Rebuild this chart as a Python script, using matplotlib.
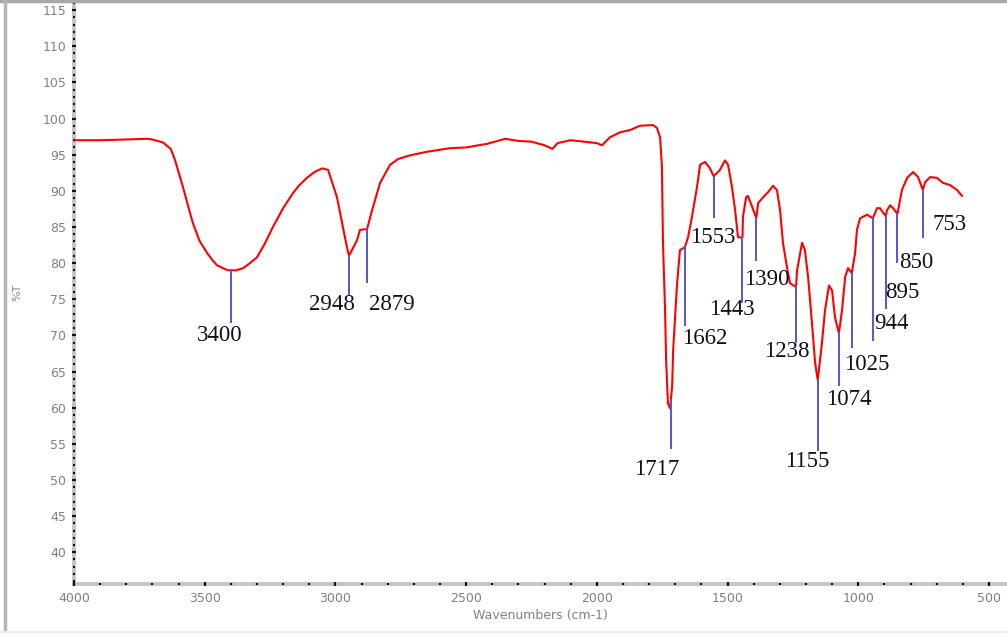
import numpy as np
import matplotlib
matplotlib.use("Agg")
import matplotlib.pyplot as plt
from matplotlib.lines import Line2D

# espectro IV (numero de onda cm-1, %T)
wn = [4000, 3900, 3800, 3720, 3700, 3660, 3630, 3614, 3600, 3583, 3565, 3545,
      3520, 3491, 3470, 3453, 3430, 3411, 3380, 3353, 3330, 3300, 3270, 3239,
      3200, 3162, 3140, 3109, 3080, 3051, 3028, 2994, 2956, 2948, 2917,
      2906, 2879, 2860, 2829, 2791, 2760, 2715, 2650, 2562, 2500, 2420, 2350,
      2300, 2250, 2200, 2170, 2150, 2100, 2050, 2000, 1980, 1950, 1911, 1873,
      1835, 1785, 1770, 1758, 1751, 1747, 1739, 1735, 1728, 1720, 1712, 1708,
      1693, 1682, 1663, 1651, 1636, 1617, 1605, 1586, 1567, 1553, 1529, 1510,
      1498, 1483, 1471, 1460, 1443, 1441, 1429, 1422, 1406, 1390, 1383, 1364,
      1345, 1326, 1311, 1299, 1288, 1273, 1261, 1238, 1234, 1215, 1204, 1192,
      1177, 1165, 1155, 1139, 1127, 1112, 1100, 1089, 1074, 1062, 1050, 1039,
      1025, 1012, 1005, 993, 966, 944, 928, 917, 895, 890, 878, 867, 850, 833,
      813, 790, 771, 753, 744, 725, 699, 676, 649, 622, 603]
T = [97.0, 97.0, 97.1, 97.2, 97.1, 96.7, 95.8, 94.3, 92.6, 90.5, 88.1, 85.5,
     83.1, 81.4, 80.4, 79.7, 79.3, 79.0, 79.0, 79.3, 79.9, 80.8, 82.7, 85.0,
     87.6, 89.7, 90.7, 91.8, 92.6, 93.1, 92.9, 89.1, 82.2, 81.0, 83.2,
     84.6, 84.7, 87.3, 91.1, 93.6, 94.4, 94.9, 95.4, 95.9, 96.0, 96.5, 97.2,
     96.9, 96.8, 96.3, 95.8, 96.6, 97.0, 96.8, 96.6, 96.3, 97.4, 98.1, 98.4,
     99.0, 99.1, 98.7, 97.4, 93.3, 82.8, 73.5, 66.6, 60.6, 59.9, 62.9, 68.0,
     77.2, 81.8, 82.2, 83.6, 86.4, 90.5, 93.6, 94.0, 93.1, 92.0, 92.9, 94.2,
     93.6, 90.5, 87.3, 83.6, 83.5, 86.4, 89.1, 89.3, 87.8, 86.2, 88.3, 89.1,
     89.8, 90.7, 90.1, 87.3, 82.8, 79.5, 77.2, 76.7, 79.0, 82.8, 81.8, 78.1,
     71.7, 66.2, 63.8, 68.9, 73.5, 76.9, 76.2, 72.5, 70.3, 73.5, 78.1, 79.3,
     78.6, 81.4, 84.6, 86.2, 86.7, 86.2, 87.6, 87.6, 86.5, 87.3, 88.0, 87.6,
     86.8, 90.1, 91.8, 92.6, 91.9, 90.1, 91.2, 91.9, 91.8, 91.1, 90.8, 90.1,
     89.3]

# picos marcados
picos = [3400, 2948, 2879, 1717, 1662, 1553, 1443, 1390, 1238, 1155, 1074,
         1025, 944, 895, 850, 753]

# layout das marcacoes: fim da linha (%T), centro do texto (cm-1, %T)
fim_linha = [71.8, 75.7, 77.4, 54.4, 71.4, 86.4, 74.6, 80.4, 69.1, 54.1,
             63.1, 68.4, 69.4, 73.8, 80.1, 83.6]
texto_x = [3441, 3013, 2783, 1770, 1586, 1555, 1483, 1349, 1272, 1196,
           1035, 966, 871, 832, 779, 652]
texto_y = [70.0, 74.3, 74.3, 51.4, 69.6, 83.5, 73.6, 77.7, 67.7, 52.5,
           61.1, 65.9, 71.7, 75.9, 80.1, 85.3]

fig = plt.figure(figsize=(10.07, 6.37), dpi=100)
ax = fig.add_axes([74 / 1007, 53 / 637, 1 - 74 / 1007, 1 - 53 / 637])

x = np.array(wn)
y = np.array(T)
ax.plot(x, y, color='#ff0000', linewidth=1.5)

# linhas verticais azuis dos picos
topo = np.interp(picos, x[::-1], y[::-1])
for p, t0, t1, tx, ty in zip(picos, topo, fim_linha, texto_x, texto_y):
    ax.plot([p, p], [t0, t1], color='#5555d5', linewidth=1.4)
    ax.text(tx, ty, str(p), ha='center', va='center', fontsize=16.5,
            family='Liberation Serif', color='#101020')

ax.set_xlim(4000, 431)
ax.set_ylim(35.6, 116.4)
ax.set_xticks(np.arange(4000, 499, -500))
ax.set_xticks(np.arange(4000, 431, -100), minor=True)
ax.set_yticks(np.arange(40, 116, 5))
ax.set_yticks(np.arange(36, 117, 1), minor=True)

for s in ['top', 'right']:
    ax.spines[s].set_visible(False)
for s in ['left', 'bottom']:
    ax.spines[s].set_color('#c4c4c4')
    ax.spines[s].set_linewidth(2.8)
    ax.spines[s].set_zorder(0.5)

ax.tick_params(which='major', direction='inout', length=3, width=1.6,
               color='#111111', labelsize=9, labelcolor='#808080', pad=4)
ax.tick_params(which='minor', direction='inout', length=1.6, width=1.6,
               color='#111111')

ax.set_xlabel('Wavenumbers (cm-1)', fontsize=9, color='#808080', labelpad=3)
fig.text(17 / 1007, 1 - 292 / 637, '%T', rotation=90, fontsize=8,
         color='#808080', ha='center', va='center')

# moldura da captura
fig.add_artist(Line2D([0, 1], [1 - 1 / 637, 1 - 1 / 637], color='#a8a8a8',
                      linewidth=2.5))
fig.add_artist(Line2D([5 / 1007, 5 / 1007], [1 - 630 / 637, 1], color='#b4b4b4',
                      linewidth=2.5))
fig.add_artist(Line2D([0, 1], [1 - 632 / 637, 1 - 632 / 637], color='#ececec',
                      linewidth=1.5))

fig.savefig('out.png', dpi=100)
